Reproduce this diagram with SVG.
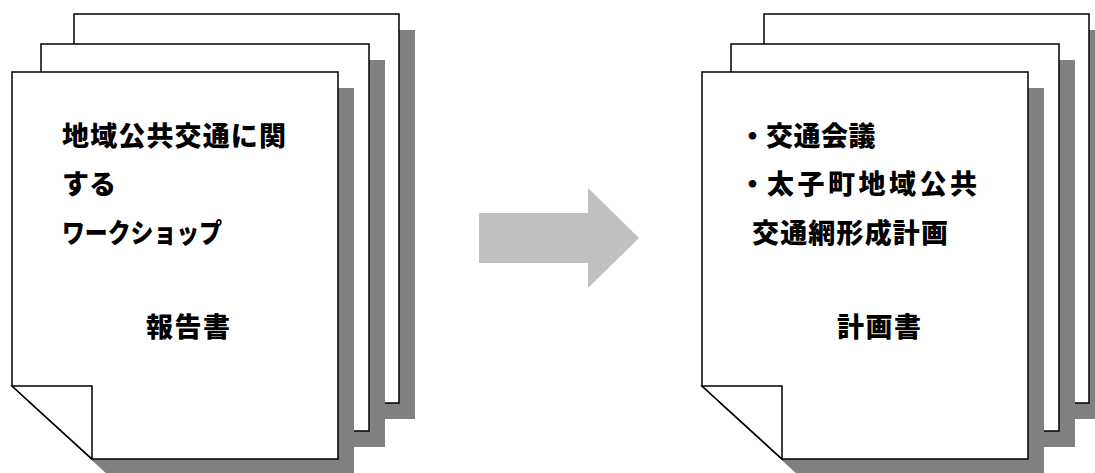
<svg xmlns="http://www.w3.org/2000/svg" width="1095" height="473" viewBox="0 0 1095 473">
<style>
.page{fill:#ffffff;stroke:#000000;stroke-width:1.5;stroke-linejoin:miter}
.shadow{fill:#808080;stroke:none}
.t{font-family:"Noto Sans CJK JP","Noto Sans CJK SC",sans-serif;font-weight:900;font-size:27px;fill:#000000}
</style>
<defs>
<g id="stack">
<polygon class="shadow" points="90,30 415,30 415,419 170,419 90,346"/>
<polygon class="page" points="74,14 399,14 399,403 154,403 74,330"/>
<polygon class="shadow" points="57,60 385,60 385,447 137,447 57,374"/>
<polygon class="page" points="41,44 369,44 369,431 121,431 41,358"/>
<polygon class="shadow" points="28,88 354,88 354,475 108,475 28,402"/>
<polygon class="page" points="12,72 338,72 338,459 92,459 12,386"/>
<polygon class="page" points="12,386 92,386 92,459"/>
</g>
</defs>
<g id="report">
<use href="#stack"/>
<text class="t" x="62" y="146" textLength="224" lengthAdjust="spacing">地域公共交通に関</text>
<text class="t" x="62" y="194">する</text>
<text class="t" x="62" y="243" textLength="160" lengthAdjust="spacingAndGlyphs">ワークショップ</text>
<text class="t" x="146" y="337" textLength="84" lengthAdjust="spacing">報告書</text>
</g>
<g id="plan">
<use href="#stack" x="690"/>
<text class="t" y="146"><tspan x="739">・</tspan><tspan x="766" style="letter-spacing:0.5px">交通会議</tspan></text>
<text class="t" y="194"><tspan x="739">・</tspan><tspan x="767" style="letter-spacing:3.5px">太子町地域公共</tspan></text>
<text class="t" x="752" y="243" textLength="196" lengthAdjust="spacing">交通網形成計画</text>
<text class="t" x="837" y="337" textLength="84" lengthAdjust="spacing">計画書</text>
</g>
<g id="connectors">
<polygon fill="#c0c0c0" points="479,213 588,213 588,188 639,238 588,288 588,263 479,263"/>
</g>
</svg>
